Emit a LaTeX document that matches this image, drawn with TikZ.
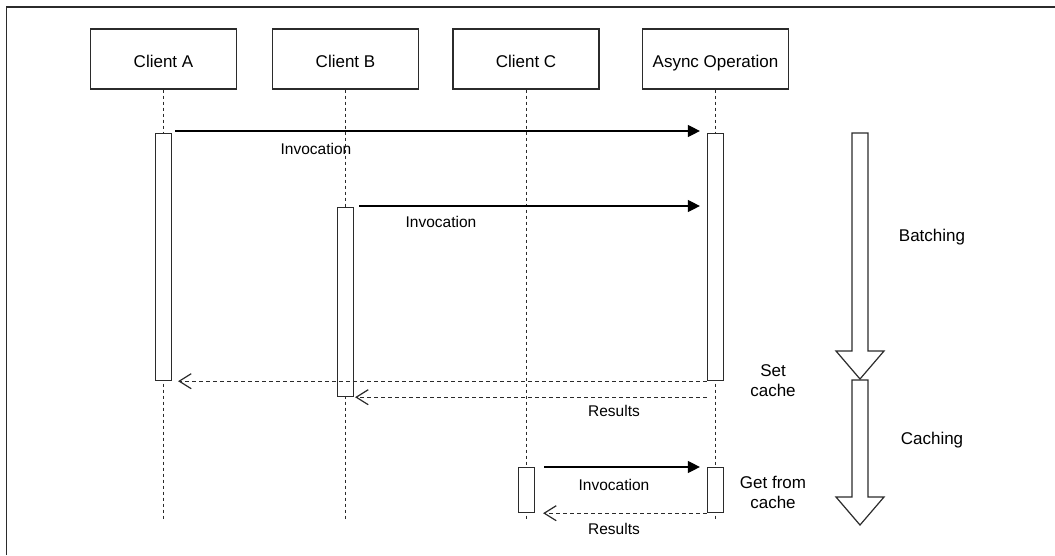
\documentclass[tikz,border=0pt]{standalone}
\usepackage{fontspec}
\setmainfont{Liberation Sans}
\usetikzlibrary{arrows.meta,calc}
\definecolor{linegray}{HTML}{2B2B2B}

\begin{document}
\begin{tikzpicture}[x=1pt,y=-1pt,
    actor/.style={draw=linegray,line width=1.2pt,minimum width=146pt,minimum height=60pt,
        inner sep=0pt,text height=16pt,text depth=0pt,font=\fontsize{17}{20}\selectfont},
    bar/.style={draw=linegray,line width=1.2pt,fill=white,minimum width=16pt,inner sep=0pt,anchor=north},
    life/.style={draw=linegray,line width=1.2pt,dash pattern=on 3pt off 3pt},
    call/.style={draw=black,line width=1.2pt,-{Triangle[length=12pt,width=12pt]}},
    reply/.style={draw=linegray,line width=1.2pt,dash pattern=on 4pt off 3pt,
        -{Straight Barb[length=12pt,width=15pt]}},
    lbl/.style={font=\fontsize{15.5}{18}\selectfont},
    note/.style={font=\fontsize{17}{20}\selectfont,align=center}]
    \useasboundingbox (0,0) rectangle (1055,555);

    % --- FRAME ---
    \draw[linegray,line width=1.2pt] (6.5,555) -- (6.5,7) -- (1055,7);

    % --- PARTICIPANTS ---
    \node[actor] (cliA) at (163.5,59) {Client A};
    \node[actor] (cliB) at (345.5,59) {Client B};
    \node[actor] (cliC) at (526,59) {Client C};
    \node[actor] (asyncOp) at (715.5,59) {Async Operation};

    \coordinate (endA) at (163.5,521);
    \coordinate (endB) at (345.5,521);
    \coordinate (endC) at (526.5,521);
    \coordinate (endOp) at (715.5,521);
	\draw[life] (cliA.south) -- (endA);
	\draw[life] (cliB.south) -- (endB);
	\draw[life] ([xshift=0.5pt]cliC.south) -- (endC);
	\draw[life] (asyncOp.south) -- (endOp);

    % --- ACTIVATIONS ---
    \node[bar,minimum height=247pt] (barA) at (163.5,133) {};
    \node[bar,minimum height=189pt] (barB) at (345.5,207) {};
    \node[bar,minimum height=247pt] (barOp) at (715.5,133) {};
    \node[bar,minimum height=45pt] (barC) at (526.5,467) {};
    \node[bar,minimum height=45pt] (barOpC) at (715.5,467) {};

    % --- MESSAGES ---
	\draw[call] ($(barA.north east)+(3,-2)$) -- ($(barOp.north west)+(-7,-2)$);
	\draw[call] ($(barB.north east)+(5,-1)$) -- ($(barOp.west |- barB.north)+(-7,-1)$);
	\draw[reply] (barOp.south west) -- ($(barA.south east)+(6,0)$);
	\draw[reply] (barOp.west |- barB.south) -- ($(barB.south east)+(1,0)$);
	\draw[call] ($(barC.north east)+(9,0)$) -- ($(barOpC.north west)+(-7,0)$);
	\draw[reply] (barOpC.south west) -- ($(barC.south east)+(8,0)$);

	\node[lbl] (inv1) at (316,149) {Invocation};
	\node[lbl] (inv2) at (441,222) {Invocation};
	\node[lbl] (inv3) at (614,485) {Invocation};
	\node[lbl] (res1) at (614,411) {Results};
	\node[lbl] (res2) at (614,529) {Results};
	\node[note] (setCache) at (773,381) {Set\\cache};
	\node[note] (getCache) at (773,492) {Get from\\cache};

    % --- PHASES ---
   \def\batchArrow{(852,133) -- (868,133) -- (868,351) -- (884,351) -- (860,379) -- (836,351) -- (852,351) -- cycle}
   \def\cacheArrow{(852,380) -- (868,380) -- (868,497) -- (884,497) -- (860,525) -- (836,497) -- (852,497) -- cycle}
	\draw[linegray,line width=1.2pt,fill=white] \batchArrow;
	\draw[linegray,line width=1.2pt,fill=white] \cacheArrow;
	\node[note] (batching) at (932,237) {Batching};
	\node[note] (caching) at (932,440) {Caching};
\end{tikzpicture}
\end{document}
